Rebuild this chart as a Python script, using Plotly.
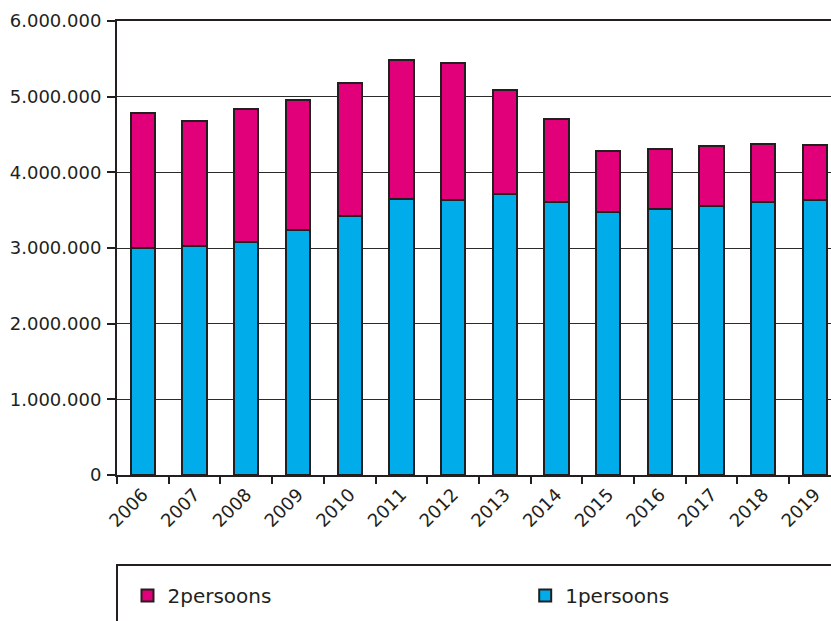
import plotly.graph_objects as go

years = ["2006", "2007", "2008", "2009", "2010", "2011", "2012",
         "2013", "2014", "2015", "2016", "2017", "2018", "2019"]
een_persoons = [3000000, 3020000, 3080000, 3240000, 3420000, 3650000, 3640000,
                3710000, 3610000, 3470000, 3510000, 3550000, 3610000, 3630000]
twee_persoons = [1780000, 1660000, 1760000, 1710000, 1760000, 1840000, 1800000,
                 1380000, 1090000, 810000, 800000, 800000, 760000, 730000]
y_ticks = [0, 1000000, 2000000, 3000000, 4000000, 5000000, 6000000]

DARK = "#231F20"
FONT = "DejaVu Sans"

fig = go.Figure()
fig.add_trace(go.Bar(
    x=years, y=een_persoons, name="1persoons", legend="legend2",
    marker=dict(color="#00ACE9", line=dict(color=DARK, width=2)),
    width=0.47,
))
fig.add_trace(go.Bar(
    x=years, y=twee_persoons, name="2persoons", legend="legend",
    marker=dict(color="#E2007A", line=dict(color=DARK, width=2)),
    width=0.47,
))

leg_common = dict(
    orientation="h", yanchor="top", y=-0.2224, xanchor="left",
    font=dict(family=FONT, size=20, color=DARK),
    bgcolor="rgba(0,0,0,0)", borderwidth=0,
)

fig.update_layout(
    width=831, height=621, autosize=False,
    margin=dict(l=117, r=0, t=21, b=146, pad=0, autoexpand=False),
    barmode="stack",
    separators=",.",
    paper_bgcolor="white", plot_bgcolor="white",
    font=dict(family=FONT, size=18, color=DARK),
    showlegend=True,
    legend=dict(x=0.0147, **leg_common),
    legend2=dict(x=0.5717, **leg_common),
    shapes=[dict(
        type="rect", xref="paper", yref="paper",
        x0=0, x1=1.2, y0=-0.45, y1=-0.198,
        line=dict(color=DARK, width=2), fillcolor="rgba(0,0,0,0)",
        layer="above",
    )],
)

fig.update_xaxes(
    type="category", range=[-0.5, 13.31], automargin=False,
    showline=True, linecolor=DARK, linewidth=2, mirror=True,
    ticks="outside", tickson="boundaries", ticklen=7, tickwidth=1.5,
    tickcolor=DARK, tickangle=-45, showgrid=False,
    tickfont=dict(family=FONT, size=18, color=DARK),
)
fig.update_yaxes(
    range=[0, 6000000], tickvals=y_ticks, tickformat=",d", automargin=False,
    showline=True, linecolor=DARK, linewidth=2,
    ticks="outside", ticklen=8, tickwidth=1.5, tickcolor=DARK,
    ticklabelstandoff=2,
    showgrid=True, gridcolor="#2b2b2b", gridwidth=1,
    zeroline=False,
    tickfont=dict(family=FONT, size=18, color=DARK),
)

fig.write_html(
    "out.html",
    config={"displayModeBar": False},
    post_script=(
        "document.body.style.margin='0';"
        "document.body.style.overflow='hidden';"
        "document.documentElement.style.overflow='hidden';"
    ),
)
